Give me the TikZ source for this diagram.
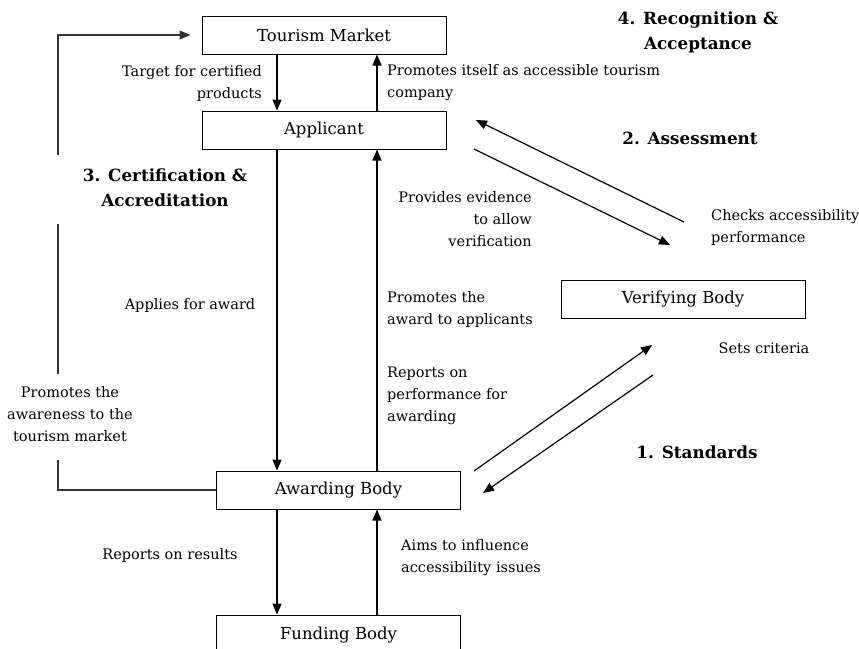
\documentclass[tikz,border=0pt]{standalone}
\usepackage{fontspec}
\setmainfont{DejaVu Serif}
\usetikzlibrary{arrows.meta}
\begin{document}
\begin{tikzpicture}[x=1pt,y=-1pt,
  box/.style={draw, line width=1pt, minimum width=244pt, minimum height=38pt, inner sep=0pt, font=\fontsize{16.5}{22}\selectfont},
  lbl/.style={font=\fontsize{14.5}{22}\selectfont, inner sep=0pt},
  ttl/.style={font=\bfseries\fontsize{16.8}{25}\selectfont, inner sep=0pt, align=center},
  arr/.style={line width=1.2pt, -{Triangle[length=11pt,width=9pt]}},
  fb/.style={line width=1.1pt, draw=black!80},
]
\useasboundingbox (0,0) rectangle (859,648);
% boxes
\node[box] (tm) at (324,35) {Tourism Market};
\node[box] (app) at (324,130) {Applicant};
\node[box] (vb) at (683,299) {Verifying Body};
\node[box] (aw) at (338.5,490) {Awarding Body};
\node[box, minimum height=40pt] (fund) at (338.5,635) {Funding Body};
% x positions of vertical arrows
\coordinate (xl) at (277,0);
\coordinate (xr) at (377,0);
\draw[arr] (tm.south -| xl) -- (app.north -| xl);
\draw[arr] (app.north -| xr) -- (tm.south -| xr);
\draw[arr] (app.south -| xl) -- (aw.north -| xl);
\draw[arr] (aw.north -| xr) -- (app.south -| xr);
\draw[arr] (aw.south -| xl) -- (fund.north -| xl);
\draw[arr] (fund.north -| xr) -- (aw.south -| xr);
% diagonal arrows
\coordinate (d1s) at (684,222);
\coordinate (d1e) at (476,120);
\coordinate (d2s) at (474,149);
\coordinate (d2e) at (670,245);
\coordinate (d3s) at (474,471);
\coordinate (d3e) at (652,345);
\coordinate (d4s) at (653,375);
\coordinate (d4e) at (483,493);
\draw[arr] (d1s) -- (d1e);
\draw[arr] (d2s) -- (d2e);
\draw[arr] (d3s) -- (d3e);
\draw[arr] (d4s) -- (d4e);
% feedback line
\coordinate (fbTop) at (58,35);
\coordinate (fb1) at (58,155);
\coordinate (fb2) at (58,224);
\coordinate (fb3) at (58,374);
\coordinate (fb4) at (58,460);
\draw[fb] (aw.west) -- (aw.west -| fb4) -- (fb4);
\draw[fb] (fb3) -- (fb2);
\draw[fb, -{Triangle[length=11pt,width=9pt]}, shorten >=11pt] (fb1) -- (fbTop) -- (tm.west);
% labels
\node[lbl, align=right, anchor=east] (l1) at (262,83) {Target for certified\\products};
\node[lbl, align=left, anchor=west] (l2) at (387,83) {Promotes itself as accessible tourism\\company};
\node[ttl] (t4) at (698,32) {4. Recognition \&\\Acceptance};
\node[ttl] (t2) at (690,138) {2. Assessment};
\node[ttl] (t3) at (165,188) {3. Certification \&\\Accreditation};
\node[lbl, align=right, anchor=east] (l3) at (532,219) {Provides evidence\\to allow\\verification};
\node[lbl, align=left, anchor=west] (l4) at (711,227) {Checks accessibility\\performance};
\node[lbl] (l5) at (190,305) {Applies for award};
\node[lbl, align=left, anchor=west] (l6) at (387,309) {Promotes the\\award to applicants};
\node[lbl] (l7) at (764,348) {Sets criteria};
\node[lbl, align=left, anchor=west] (l8) at (387,396) {Reports on\\performance for\\awarding};
\node[lbl, align=center] (l9) at (70,414) {Promotes the\\awareness to the\\tourism market};
\node[ttl] (t1) at (697,452) {1. Standards};
\node[lbl] (l10) at (170,555) {Reports on results};
\node[lbl, align=left, anchor=west] (l11) at (401,558) {Aims to influence\\accessibility issues};
\end{tikzpicture}
\end{document}
